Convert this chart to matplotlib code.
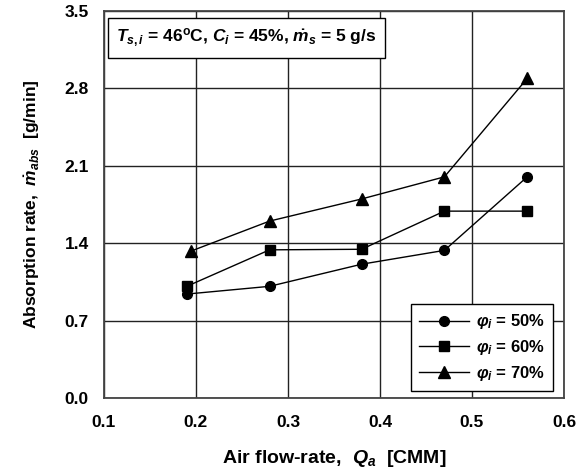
import matplotlib
matplotlib.use("Agg")
import matplotlib.pyplot as plt

plt.rcParams['font.family'] = ['Liberation Sans', 'DejaVu Sans']
plt.rcParams['font.weight'] = 'bold'
plt.rcParams['mathtext.fontset'] = 'custom'
plt.rcParams['mathtext.it'] = 'Liberation Sans:italic:bold'
plt.rcParams['mathtext.rm'] = 'Liberation Sans:bold'
plt.rcParams['mathtext.bf'] = 'Liberation Sans:bold'

x_50 = [0.19, 0.28, 0.38, 0.47, 0.56]
y_50 = [0.94, 1.01, 1.21, 1.335, 2.0]
x_60 = [0.19, 0.28, 0.38, 0.47, 0.56]
y_60 = [1.01, 1.34, 1.345, 1.69, 1.69]
x_70 = [0.195, 0.28, 0.38, 0.47, 0.56]
y_70 = [1.33, 1.60, 1.80, 2.0, 2.89]
labels = [r'$\varphi_i$ = 50%', r'$\varphi_i$ = 60%', r'$\varphi_i$ = 70%']
xticks = [0.1, 0.2, 0.3, 0.4, 0.5, 0.6]
yticks = [0.0, 0.7, 1.4, 2.1, 2.8, 3.5]

fig = plt.figure(figsize=(5.85, 4.73), dpi=100)
ax = fig.add_axes([104/585, 75/473, 460/585, 387/473])

ax.plot(x_50, y_50, color='black', lw=1, marker='o', ms=7, label=labels[0])
ax.plot(x_60, y_60, color='black', lw=1, marker='s', ms=7, label=labels[1])
ax.plot(x_70, y_70, color='black', lw=1, marker='^', ms=8, label=labels[2])

ax.set_xlim(0.1, 0.6)
ax.set_ylim(0.0, 3.5)
ax.set_xticks(xticks)
ax.set_yticks(yticks)
ax.set_xticklabels([f'{v:.1f}' for v in xticks], fontsize=12.5, fontweight='bold')
ax.set_yticklabels([f'{v:.1f}' for v in yticks], fontsize=12.5, fontweight='bold')
ax.tick_params(axis='x', length=0, pad=12)
ax.tick_params(axis='y', length=0, pad=11)
ax.grid(True, color='#222222', lw=1)
for s in ax.spines.values():
    s.set_linewidth(1.3)
    s.set_color('#444444')

ax.set_xlabel(r'Air flow-rate,  $Q_a$  [CMM]', fontsize=14, fontweight='bold', labelpad=13)
ax.set_ylabel(r'Absorption rate,  $\dot{m}_{abs}$  [g/min]', fontsize=12.5, fontweight='bold', labelpad=16)

ax.text(0.027, 0.96, r'$T_{s,i}$ = 46$^{\rm o}$C, $C_i$ = 45%, $\dot{m}_s$ = 5 g/s',
        transform=ax.transAxes, fontsize=12.5, fontweight='bold', va='top', ha='left',
        bbox=dict(boxstyle='square,pad=0.5', fc='white', ec='black', lw=1))

leg = ax.legend(loc='lower right', bbox_to_anchor=(0.976, 0.018), fontsize=12,
                frameon=True, fancybox=False, edgecolor='black', framealpha=1,
                handlelength=3.0, handletextpad=0.4, borderpad=0.5, labelspacing=0.4,
                borderaxespad=0)
leg.get_frame().set_linewidth(1)
for t in leg.get_texts():
    t.set_fontweight('bold')

fig.savefig('out.png', dpi=100)
